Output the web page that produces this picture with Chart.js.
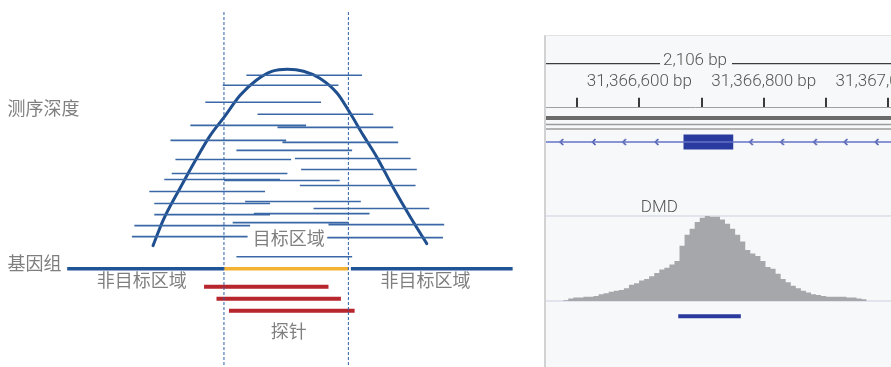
<!DOCTYPE html>
<html lang="zh-CN">
<head>
<meta charset="utf-8">
<title>靶向捕获测序深度示意</title>
<script src="https://cdn.jsdelivr.net/npm/chart.js@4.4.1/dist/chart.umd.min.js"></script>
<style>
  html, body { margin: 0; padding: 0; background: #fff; overflow: hidden; width: 891px; height: 367px; }
  #schematic { position: absolute; left: 0; top: 0; }
  #igv {
    position: absolute; left: 544px; top: 35px; width: 400px; height: 340px;
    box-sizing: border-box; border-left: 2px solid #d2d2d2; border-top: 1px solid #e3e3e3;
    background: #f7f8f9; overflow: hidden;
  }
  #browser { position: absolute; left: -156px; top: 0; }
  #coverage { position: absolute; left: -156px; top: 160px; }
</style>
</head>
<body>
<canvas id="schematic" width="540" height="367"></canvas>
<div id="igv">
  <canvas id="browser" width="610" height="160"></canvas>
  <canvas id="coverage" width="610" height="140"></canvas>
</div>
<script>
// ---------- Schematic (left) ----------
// Genome positions are relative to the target region (0..100);
// heights are measured upward from the genome line.
const targetRegion = [0, 100];
const leftFlank = [-126, 0];
const rightFlank = [102, 232];

const readStart = [18, -1, -15, 27, -27, 43, -43, 47, 10, 57, -39, 62, -42, -48, 0, 61, -60, 17, -56, 72, 24, -56, 7, 84, -72, -74, 83, 10];
const readEnd   = [111, 92, 78, 120, 66, 136, 50, 140, 103, 150, 54, 155, 51, 45, 93, 154, 33, 110, 37, 165, 117, 37, 100, 177, 21, 19, 176, 103];
const readLevel = [193, 183, 166, 154, 143, 141, 128, 126, 118, 110, 109, 99, 95, 89, 88, 83, 77, 67, 65, 60, 55, 54, 46, 44, 43, 32, 31, 12];

const depthCurveX = [-57, -49, -35, -23, -11, 0, 13, 26, 39, 51, 64, 77, 91, 101, 112, 123, 136, 150, 163];
const depthCurveY = [23, 48, 81, 108, 133, 151, 173, 188, 197, 199, 197, 190, 175, 156, 133, 111, 81, 51, 25];

const probeStart = [-16, -6, 4];
const probeEnd   = [84, 94, 105];
const probeLevel = [-18, -30, -42];

const schematicLabels = ['测序深度', '基因组', '非目标区域', '目标区域', '非目标区域', '探针'];
const schematicLabelX = [-174, -174, -66, 52, 162, 52];
const schematicLabelY = [160, 6, -11, 30, -11, -62];
const schematicLabelAlign = ['left', 'left', 'center', 'center', 'center', 'center'];

function segments(starts, ends, levels) {
  const pts = [];
  starts.forEach((s, i) => {
    pts.push({ x: s, y: levels[i] }, { x: ends[i], y: levels[i] }, { x: ends[i], y: null });
  });
  return pts;
}

const labelPlugin = {
  id: 'schematicLabels',
  afterDatasetsDraw(chart) {
    const { ctx, scales } = chart;
    ctx.save();
    ctx.font = '18px "Noto Sans CJK SC", "Noto Sans", sans-serif';
    ctx.fillStyle = '#7f7f7f';
    ctx.textBaseline = 'middle';
    schematicLabels.forEach((t, i) => {
      ctx.textAlign = schematicLabelAlign[i];
      ctx.fillText(t, scales.x.getPixelForValue(schematicLabelX[i]), scales.y.getPixelForValue(schematicLabelY[i]));
    });
    ctx.restore();
  }
};

const lineBase = { pointRadius: 0, fill: false, clip: false, borderCapStyle: 'butt', tension: 0 };
const quiet = { legend: { display: false }, tooltip: { enabled: false } };

new Chart(document.getElementById('schematic'), {
  type: 'line',
  data: {
    datasets: [
      { ...lineBase, label: 'reads', data: segments(readStart, readEnd, readLevel), borderColor: '#3a68a6', borderWidth: 1.6 },
      { ...lineBase, label: 'boundaries',
        data: [{ x: targetRegion[0], y: 256 }, { x: targetRegion[0], y: -99 }, { x: targetRegion[0], y: null },
               { x: targetRegion[1], y: 256 }, { x: targetRegion[1], y: -99 }],
        borderColor: '#2d5fa8', borderWidth: 1, borderDash: [3, 2] },
      { ...lineBase, label: 'depth', data: depthCurveX.map((x, i) => ({ x, y: depthCurveY[i] })),
        borderColor: '#1f4f8f', borderWidth: 3, cubicInterpolationMode: 'monotone', borderCapStyle: 'round' },
      { ...lineBase, label: 'genome',
        data: [{ x: leftFlank[0], y: 0 }, { x: leftFlank[1], y: 0 }, { x: leftFlank[1], y: null },
               { x: rightFlank[0], y: 0 }, { x: rightFlank[1], y: 0 }],
        borderColor: '#1f5496', borderWidth: 3.5 },
      { ...lineBase, label: 'target', data: [{ x: targetRegion[0], y: 0 }, { x: targetRegion[1], y: 0 }],
        borderColor: '#f4b233', borderWidth: 3.5 },
      { ...lineBase, label: 'probes', data: segments(probeStart, probeEnd, probeLevel), borderColor: '#b8262d', borderWidth: 4 }
    ]
  },
  options: {
    responsive: false, animation: false, events: [],
    layout: { padding: 0 },
    plugins: quiet,
    scales: {
      x: { type: 'linear', display: false, min: -180, max: 254 },
      y: { type: 'linear', display: false, min: -98, max: 268 }
    }
  },
  plugins: [labelPlugin]
});

// ---------- Genome browser view (right) ----------
const viewStart = 31366207;
const viewEnd = 31367172;
const rulerTickValues = [31366600, 31366800, 31367000];
const rulerTickLabels = ['31,366,600 bp', '31,366,800 bp', '31,367,000 bp'];
const windowLabel = '2,106 bp';

const geneName = 'DMD';
const geneNameAt = 31366633;
const exonStart = 31366671;
const exonEnd = 31366751;
const strandArrows = [31366475, 31366527, 31366576, 31366628, 31366780, 31366830, 31366883, 31366932, 31366982];
const exonArrows = [31366724];
const targetStart = 31366663;
const targetEnd = 31366762;

const coverageStart = 31366481;
const coverageBin = 8;
const coverageDepth = [1, 3, 4, 4, 5, 5, 6, 8, 9, 11, 12, 13, 15, 19, 21, 24, 26, 29, 33, 37,
  39, 43, 47, 65, 78, 85, 93, 98, 100, 99, 99, 96, 91, 85, 78, 70, 60, 56, 53, 47,
  40, 38, 32, 26, 22, 18, 15, 12, 10, 8, 7, 6, 5, 5, 5, 5, 4, 4, 3, 2, 1];
const depthRange = 100;

// track rows (pixels below the ruler)
const rows = { sequenceBar: 11, sequenceLine1: 18, sequenceLine2: 23, gene: 37 };

const uiFont = { family: 'Roboto', size: 17, weight: '300' };

function chevron(color) {
  const c = document.createElement('canvas');
  c.width = 6; c.height = 8;
  const g = c.getContext('2d');
  g.strokeStyle = color; g.lineWidth = 1.5;
  g.beginPath(); g.moveTo(4.5, 1); g.lineTo(1.5, 4); g.lineTo(4.5, 7); g.stroke();
  return c;
}

const rulerPlugin = {
  id: 'rulerTitleLines',
  afterDraw(chart) {
    const s = chart.scales.x;
    const t = s.options.title;
    const font = Chart.helpers.toFont(t.font);
    const pad = Chart.helpers.toPadding(t.padding);
    const { ctx } = chart;
    const y = s.top + pad.top + font.lineHeight / 2 + 2.5;
    const cx = (s.left + s.right) / 2;
    ctx.save();
    ctx.font = font.string;
    const w = ctx.measureText(t.text).width;
    ctx.strokeStyle = '#3c3c3c';
    ctx.lineWidth = 1.3;
    ctx.beginPath();
    ctx.moveTo(s.left, y); ctx.lineTo(cx - w / 2 - 3, y);
    ctx.moveTo(cx + w / 2 + 5, y); ctx.lineTo(s.right, y);
    ctx.stroke();
    ctx.restore();
  }
};

const geneNamePlugin = {
  id: 'geneName',
  afterDraw(chart) {
    const { ctx, scales } = chart;
    ctx.save();
    ctx.font = Chart.helpers.toFont(uiFont).string;
    ctx.fillStyle = '#555';
    ctx.textAlign = 'center';
    ctx.textBaseline = 'middle';
    ctx.fillText(geneName, scales.x.getPixelForValue(geneNameAt), scales.y.getPixelForValue(110));
    ctx.restore();
  }
};

const span = y => [{ x: viewStart, y }, { x: viewEnd, y }];

// ruler, sequence and gene tracks
new Chart(document.getElementById('browser'), {
  type: 'line',
  data: {
    datasets: [
      { ...lineBase, data: span(rows.sequenceBar), borderColor: '#6b6b6b', borderWidth: 4 },
      { ...lineBase, data: span(rows.sequenceLine1), borderColor: '#9c9c9c', borderWidth: 1.5 },
      { ...lineBase, data: span(rows.sequenceLine2), borderColor: '#9c9c9c', borderWidth: 1.5 },
      { ...lineBase, data: span(rows.gene), borderColor: '#6373c6', borderWidth: 1.5 },
      { ...lineBase, data: [{ x: exonStart, y: rows.gene }, { x: exonEnd, y: rows.gene }], borderColor: '#2a3b9f', borderWidth: 15 },
      { ...lineBase, data: strandArrows.map(x => ({ x, y: rows.gene })), showLine: false,
        pointRadius: 3, pointStyle: chevron('#3f4fa8') },
      { ...lineBase, data: exonArrows.map(x => ({ x, y: rows.gene })), showLine: false,
        pointRadius: 3, pointStyle: chevron('#ffffff') }
    ]
  },
  options: {
    responsive: false, animation: false, events: [],
    layout: { padding: 0 },
    font: uiFont,
    plugins: quiet,
    scales: {
      x: {
        type: 'linear', position: 'top', min: viewStart, max: viewEnd,
        ticks: {
          stepSize: 100, includeBounds: false, autoSkip: false, maxRotation: 0, padding: 6,
          color: '#555', font: uiFont,
          callback: v => { const i = rulerTickValues.indexOf(Math.round(v)); return i < 0 ? '' : rulerTickLabels[i]; }
        },
        grid: { drawOnChartArea: false, drawTicks: true, tickLength: 10, color: '#3a3a3a', lineWidth: 2 },
        border: { display: true, color: '#a0a0a0', width: 1 },
        title: { display: true, text: windowLabel, color: '#555', font: uiFont, padding: { top: 15, bottom: -6 } }
      },
      y: { type: 'linear', display: false, min: 0, max: 90, reverse: true }
    }
  },
  plugins: [rulerPlugin]
});

// coverage track with the capture target underneath
new Chart(document.getElementById('coverage'), {
  type: 'line',
  data: {
    datasets: [
      { ...lineBase, data: coverageDepth.map((d, i) => ({ x: coverageStart + i * coverageBin, y: d })),
        stepped: true, fill: 'origin', backgroundColor: '#a6a7ab', borderColor: 'rgba(0,0,0,0)', borderWidth: 0 },
      { ...lineBase, data: span(depthRange), borderColor: '#cdcfe0', borderWidth: 1 },
      { ...lineBase, data: span(0), borderColor: '#cdcfe0', borderWidth: 1 },
      { ...lineBase, data: [{ x: targetStart, y: -18 }, { x: targetEnd, y: -18 }], borderColor: '#2b3a9f', borderWidth: 4 }
    ]
  },
  options: {
    responsive: false, animation: false, events: [],
    layout: { padding: 0 },
    plugins: quiet,
    scales: {
      x: { type: 'linear', display: false, min: viewStart, max: viewEnd },
      y: { type: 'linear', display: false, min: -41.2, max: 123.5 }
    }
  },
  plugins: [geneNamePlugin]
});
</script>
</body>
</html>
